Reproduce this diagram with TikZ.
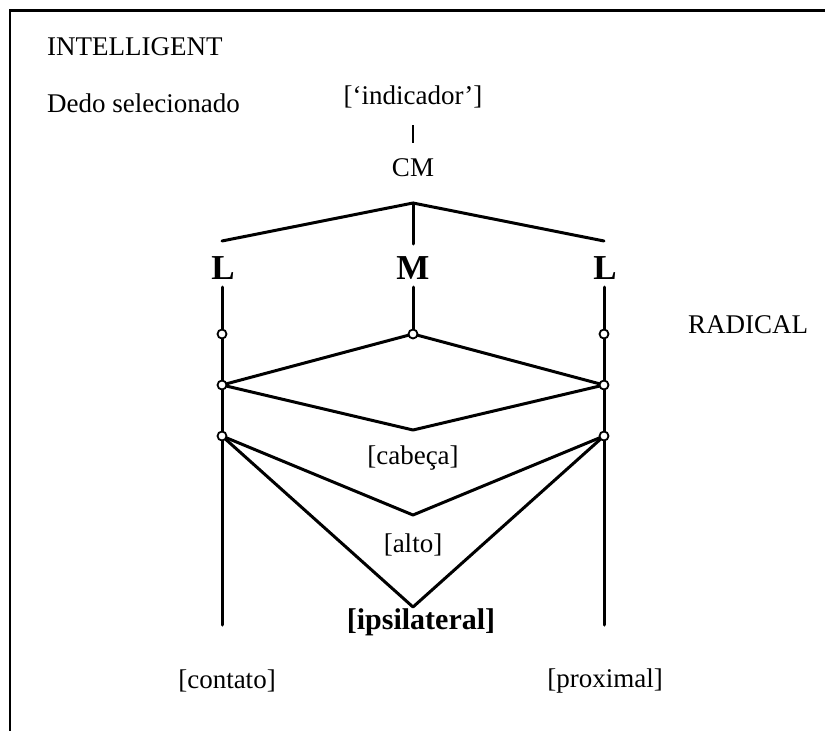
\documentclass[tikz,border=0pt]{standalone}
\usepackage{fontspec}
\setmainfont{Liberation Serif}
\begin{document}
\begin{tikzpicture}[x=1pt,y=-1pt,
  lbl/.style={inner sep=0pt,font=\fontsize{27}{30}\selectfont},
  big/.style={inner sep=0pt,font=\fontsize{35}{38}\selectfont\bfseries},
  ln/.style={line width=3pt,line cap=round,line join=round},
  dot/.style={circle,draw,fill=white,line width=1.8pt,inner sep=0pt,minimum size=9pt}]
\useasboundingbox (0,0) rectangle (825,731);
\draw[line width=3pt] (9,10) -- (825,10);
\draw[line width=2.5pt] (10,10) -- (10,731);
% texts
\node[lbl,anchor=west] (intel) at (47,47) {INTELLIGENT};
\node[lbl,anchor=west] (dedo) at (47,103) {Dedo selecionado};
\node[lbl] (ind) at (413,97) {[‘indicador’]};
\node[lbl] (cm) at (413,168) {CM};
\node[lbl,anchor=west] (rad) at (688,325) {RADICAL};
\node[big] (Ll) at (223,268) {L};
\node[big] (Mm) at (413,268) {M};
\node[big] (Lr) at (605,268) {L};
\node[lbl] (cab) at (413,458) {[cabeça]};
\node[lbl] (alto) at (413,545) {[alto]};
\node[lbl,font=\fontsize{30}{33}\selectfont\bfseries] (ipsi) at (421,622) {[ipsilateral]};
\node[lbl] (cont) at (227,681) {[contato]};
\node[lbl] (prox) at (605,681) {[proximal]};
% coordinates
\coordinate (i1) at (413,125);
\coordinate (i2) at (413,143);
\coordinate (apex) at (413,203);
\coordinate (bl) at (222,241);
\coordinate (br) at (604,241);
\coordinate (bm) at (413,244);
\coordinate (tl) at (222,287);
\coordinate (tm) at (413,287);
\coordinate (tr) at (604,287);
\coordinate (el) at (222,625);
\coordinate (er) at (604,625);
\coordinate (dbot) at (413,430);
\coordinate (vbot) at (413,515);
\coordinate (ybot) at (413,607);
\coordinate (l1) at (222,334);
\coordinate (l2) at (222,385);
\coordinate (l3) at (222,436);
\coordinate (r1) at (604,334);
\coordinate (r2) at (604,385);
\coordinate (r3) at (604,436);
\coordinate (m1) at (413,334);
% lines
\draw[line width=2.6pt] (i1) -- (i2);
\draw[ln] (bl) -- (apex) -- (br);
\draw[ln] (apex) -- (bm);
\draw[ln] (tl) -- (el);
\draw[ln] (tr) -- (er);
\draw[ln] (tm) -- (m1);
\draw[ln] (m1) -- (l2) -- (dbot) -- (r2) -- cycle;
\draw[ln] (l3) -- (vbot) -- (r3);
\draw[ln] (l3) -- (ybot) -- (r3);
% dots
\foreach \p in {l1,l2,l3,r1,r2,r3,m1} \node[dot] at (\p) {};
\end{tikzpicture}
\end{document}
